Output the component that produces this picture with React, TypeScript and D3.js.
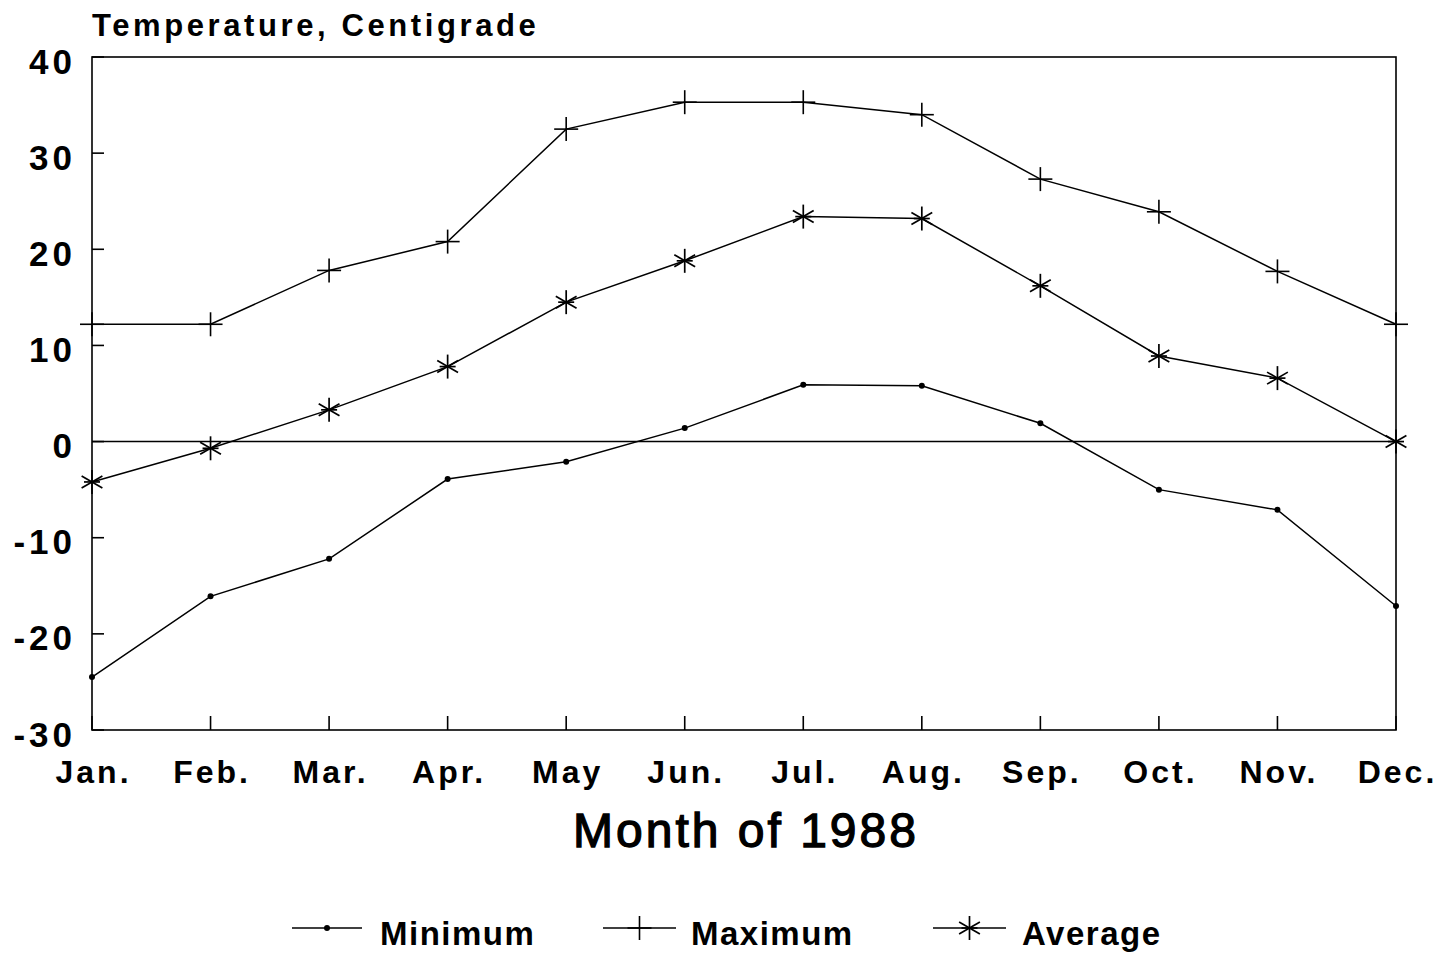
import React from "react";
import * as d3 from "d3";

const months = ["Jan.", "Feb.", "Mar.", "Apr.", "May", "Jun.", "Jul.", "Aug.", "Sep.", "Oct.", "Nov.", "Dec."];
const minimum = [-24.5, -16.1, -12.2, -3.9, -2.1, 1.4, 5.9, 5.8, 1.9, -5.0, -7.1, -17.1];
const maximum = [12.2, 12.2, 17.8, 20.8, 32.5, 35.3, 35.3, 34.0, 27.3, 23.9, 17.7, 12.2];
const average = [-4.2, -0.7, 3.3, 7.8, 14.5, 18.8, 23.4, 23.2, 16.2, 8.9, 6.6, 0.0];
const yTicks = [40, 30, 20, 10, 0, -10, -20, -30];

const W = 1447, H = 954;
const left = 92, right = 1396, top = 57, bottom = 730;
const FONT = "'Liberation Sans', Arial, Helvetica, sans-serif";

function Marker({ kind, x, y }: { kind: string; x: number; y: number }) {
  if (kind === "min") return <circle cx={x} cy={y} r={3} fill="#000" />;
  if (kind === "max")
    return (
      <g stroke="#000" strokeWidth={1.6}>
        <line x1={x - 12} x2={x + 12} y1={y} y2={y} />
        <line x1={x} x2={x} y1={y - 12} y2={y + 12} />
      </g>
    );
  const r = 12;
  return (
    <g stroke="#000" strokeWidth={1.7}>
      {[0, 60, 120].map((a) => {
        const rad = ((a + 90) * Math.PI) / 180;
        return <line key={a} x1={x - r * Math.cos(rad)} y1={y - r * Math.sin(rad)} x2={x + r * Math.cos(rad)} y2={y + r * Math.sin(rad)} />;
      })}
      <line x1={x - 8} x2={x + 8} y1={y} y2={y} />
    </g>
  );
}

export default function App() {
  const x = d3.scalePoint<string>().domain(months).range([left, right]).padding(0);
  const y = d3.scaleLinear().domain([-30, 40]).range([bottom, top]);
  const line = d3
    .line<number>()
    .x((_, i) => x(months[i]) as number)
    .y((d) => y(d));

  const series = [
    { key: "min", data: minimum },
    { key: "max", data: maximum },
    { key: "avg", data: average },
  ];

  const legend = [
    { key: "min", label: "Minimum", x0: 292, x1: 362, tx: 380 },
    { key: "max", label: "Maximum", x0: 603, x1: 676, tx: 691 },
    { key: "avg", label: "Average", x0: 933, x1: 1006, tx: 1022 },
  ];

  return (
    <svg width={W} height={H} style={{ position: "absolute", left: 0, top: 0, background: "#fff" }}>
      <rect x={0} y={0} width={W} height={H} fill="#fff" />
      <text x={92} y={36} fontFamily={FONT} fontWeight="bold" fontSize={31} letterSpacing={3.6}>
        Temperature, Centigrade
      </text>
      {/* frame */}
      <rect x={left} y={top} width={right - left} height={bottom - top} fill="none" stroke="#000" strokeWidth={1.6} />
      {/* zero line */}
      <line x1={left} x2={right} y1={y(0)} y2={y(0)} stroke="#000" strokeWidth={1.4} />
      {/* y ticks */}
      {yTicks.map((t) => (
        <g key={t}>
          <line x1={left} x2={left + 12} y1={y(t)} y2={y(t)} stroke="#000" strokeWidth={1.6} />
          <text x={76} y={y(t) + 16.5} textAnchor="end" fontFamily={FONT} fontWeight="bold" fontSize={35} letterSpacing={4}>
            {t}
          </text>
        </g>
      ))}
      {/* x ticks */}
      {months.map((m) => (
        <g key={m}>
          <line x1={x(m)} x2={x(m)} y1={bottom} y2={bottom - 14} stroke="#000" strokeWidth={1.6} />
          <text x={(x(m) as number) + 1.5} y={783} textAnchor="middle" fontFamily={FONT} fontWeight="bold" fontSize={32} letterSpacing={3}>
            {m}
          </text>
        </g>
      ))}
      <text x={746} y={847} textAnchor="middle" fontFamily={FONT} fontSize={48} letterSpacing={3} stroke="#000" strokeWidth={1.3}>
        Month of 1988
      </text>
      {/* series */}
      {series.map((s) => (
        <g key={s.key}>
          <path d={line(s.data) || ""} fill="none" stroke="#000" strokeWidth={1.5} />
          {s.data.map((v, i) => (
            <Marker key={i} kind={s.key} x={x(months[i]) as number} y={y(v)} />
          ))}
        </g>
      ))}
      {/* legend */}
      {legend.map((l) => (
        <g key={l.key}>
          <line x1={l.x0} x2={l.x1} y1={928} y2={928} stroke="#000" strokeWidth={1.5} />
          <Marker kind={l.key} x={(l.x0 + l.x1) / 2} y={928} />
          <text x={l.tx} y={945} fontFamily={FONT} fontWeight="bold" fontSize={33} letterSpacing={1.5}>
            {l.label}
          </text>
        </g>
      ))}
    </svg>
  );
}
